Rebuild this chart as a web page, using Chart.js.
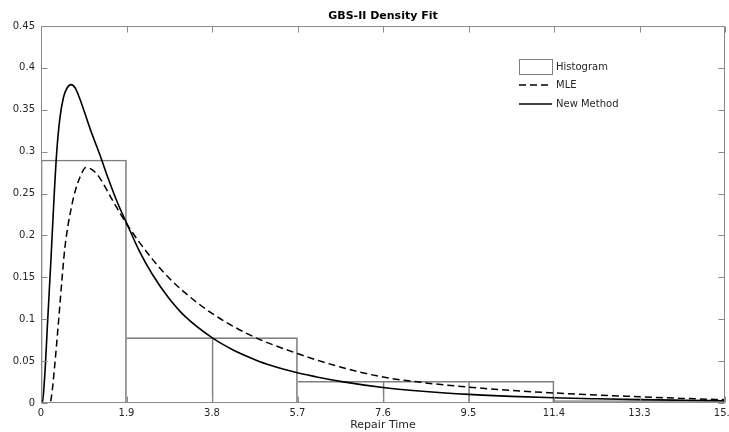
<!DOCTYPE html>
<html>
<head>
<meta charset="utf-8">
<script src="https://cdn.jsdelivr.net/npm/chart.js@4"></script>
<style>
  html, body { margin: 0; padding: 0; background: #fff; }
  #wrap { width: 729px; height: 432px; }
</style>
</head>
<body>
<div id="wrap"><canvas id="chart"></canvas></div>
<script>
// histogram bins (bin width 1.9)
const binCenters = [0.95, 2.85, 4.75, 6.65, 8.55, 10.45, 12.35, 14.25];
const binHeights = [0.29, 0.078, 0.078, 0.026, 0.026, 0.026, 0.003, 0.003];

// fitted densities
const mleX = [0, 0.2, 0.25, 0.3, 0.35, 0.4, 0.47, 0.53, 0.6, 0.67, 0.73, 0.87, 1.0, 1.15, 1.3, 1.6, 1.9, 2.47, 2.83, 3.19, 3.8, 4.65, 5.7, 6.65, 7.6, 8.55, 9.5, 10.45, 11.4, 12.35, 13.3, 14.25, 15.2];
const mleY = [0, 0, 0.015, 0.042, 0.072, 0.104, 0.15, 0.185, 0.212, 0.232, 0.247, 0.27, 0.281, 0.278, 0.269, 0.241, 0.214, 0.172, 0.15, 0.132, 0.107, 0.081, 0.059, 0.043, 0.031, 0.024, 0.019, 0.015, 0.012, 0.0095, 0.0075, 0.0055, 0.004];

const newX = [0, 0.03, 0.08, 0.15, 0.22, 0.29, 0.35, 0.42, 0.5, 0.58, 0.67, 0.76, 0.85, 0.93, 1.1, 1.31, 1.5, 1.7, 1.9, 2.18, 2.47, 2.83, 3.19, 3.8, 4.28, 4.65, 5.01, 5.7, 6.1, 6.65, 7.6, 8.55, 9.5, 10.45, 11.4, 12.35, 13.3, 14.25, 15.2];
const newY = [0, 0, 0.03, 0.1, 0.17, 0.245, 0.3, 0.34, 0.365, 0.376, 0.38, 0.376, 0.365, 0.353, 0.326, 0.296, 0.267, 0.239, 0.215, 0.182, 0.154, 0.126, 0.104, 0.078, 0.063, 0.054, 0.0465, 0.036, 0.0314, 0.0258, 0.0185, 0.0137, 0.0103, 0.0079, 0.0062, 0.005, 0.004, 0.0033, 0.0027];

const xTicks = [0, 1.9, 3.8, 5.7, 7.6, 9.5, 11.4, 13.3, 15.2];
const xTickLabels = ['0', '1.9', '3.8', '5.7', '7.6', '9.5', '11.4', '13.3', '15.2'];
const yTicks = [0, 0.05, 0.1, 0.15, 0.2, 0.25, 0.3, 0.35, 0.4, 0.45];
const yTickLabels = ['0', '0.05', '0.1', '0.15', '0.2', '0.25', '0.3', '0.35', '0.4', '0.45'];

const FONT = 'DejaVu Sans';
const TXT = '#262626';
const AXIS = '#8a8a8a';

// box around the axes, inward ticks and the legend (matlab look)
const axesBox = {
  id: 'axesBox',
  afterDatasetsDraw(chart) {
    const { ctx, chartArea: a, scales: { x, y } } = chart;
    const L = Math.round(a.left) + 0.5, R = Math.round(a.right) - 0.5;
    const T = Math.round(a.top) + 0.5, B = Math.round(a.bottom) - 0.5;
    ctx.save();
    ctx.strokeStyle = AXIS;
    ctx.lineWidth = 1;
    ctx.beginPath();
    ctx.rect(L, T, R - L, B - T);
    xTicks.forEach(v => {
      const px = Math.round(x.getPixelForValue(v)) + 0.5;
      ctx.moveTo(px, B); ctx.lineTo(px, B - 6);
      ctx.moveTo(px, T); ctx.lineTo(px, T + 6);
    });
    yTicks.forEach(v => {
      const py = Math.round(y.getPixelForValue(v)) + 0.5;
      ctx.moveTo(L, py); ctx.lineTo(L + 6, py);
      ctx.moveTo(R, py); ctx.lineTo(R - 6, py);
    });
    ctx.stroke();

    // legend
    const x0 = Math.round(a.right) - 206, y0 = Math.round(a.top) + 33;
    ctx.font = '10px ' + FONT;
    ctx.fillStyle = TXT;
    ctx.textBaseline = 'middle';
    ctx.textAlign = 'left';
    const ds = chart.data.datasets;

    ctx.strokeStyle = '#7f7f7f';
    ctx.strokeRect(x0 + 0.5, y0 + 0.5, 33, 15);
    ctx.fillText(ds[0].label, x0 + 37, y0 + 8);

    ctx.strokeStyle = '#000';
    ctx.lineWidth = 1.5;
    ctx.setLineDash([7, 4]);
    ctx.beginPath(); ctx.moveTo(x0, y0 + 26); ctx.lineTo(x0 + 33, y0 + 26); ctx.stroke();
    ctx.fillText(ds[1].label, x0 + 37, y0 + 26);

    ctx.setLineDash([]);
    ctx.beginPath(); ctx.moveTo(x0, y0 + 45); ctx.lineTo(x0 + 33, y0 + 45); ctx.stroke();
    ctx.fillText(ds[2].label, x0 + 37, y0 + 45);
    ctx.restore();
  }
};

// shared bin edges drawn once, by the taller bar
function binBorder(c) {
  const i = c.dataIndex, h = binHeights[i];
  const prev = binHeights[i - 1], next = binHeights[i + 1];
  return {
    top: 1,
    bottom: 0,
    left: (prev === undefined || h >= prev) ? 1 : 0,
    right: (next === undefined || h > next) ? 1 : 0
  };
}

new Chart(document.getElementById('chart'), {
  type: 'bar',
  data: {
    datasets: [
      {
        type: 'bar',
        label: 'Histogram',
        data: binCenters.map((x, i) => ({ x: x, y: binHeights[i] })),
        backgroundColor: 'rgba(0,0,0,0)',
        borderColor: '#7f7f7f',
        borderWidth: binBorder,
        borderSkipped: false,
        barPercentage: 1,
        categoryPercentage: 1,
        order: 2
      },
      {
        type: 'line',
        label: 'MLE',
        data: mleX.map((x, i) => ({ x: x, y: mleY[i] })),
        borderColor: '#000',
        borderWidth: 1.5,
        borderDash: [7, 4],
        pointRadius: 0,
        cubicInterpolationMode: 'monotone',
        fill: false,
        order: 1
      },
      {
        type: 'line',
        label: 'New Method',
        data: newX.map((x, i) => ({ x: x, y: newY[i] })),
        borderColor: '#000',
        borderWidth: 1.6,
        pointRadius: 0,
        cubicInterpolationMode: 'monotone',
        fill: false,
        order: 0
      }
    ]
  },
  options: {
    responsive: true,
    maintainAspectRatio: false,
    animation: false,
    layout: { padding: { right: 4 } },
    plugins: {
      legend: { display: false },
      tooltip: { enabled: false },
      title: {
        display: true,
        text: 'GBS-II Density Fit',
        fullSize: false,
        color: '#000',
        font: { family: FONT, size: 11, weight: 'bold' },
        padding: { top: 10, bottom: 2.8 }
      }
    },
    scales: {
      x: {
        type: 'linear',
        min: 0,
        max: 15.2,
        offset: false,
        grid: { display: false, drawTicks: false },
        border: { display: false },
        afterBuildTicks: s => { s.ticks = xTicks.map(v => ({ value: v })); },
        afterFit: s => { s.height = 29; s.paddingRight = 0; },
        ticks: {
          autoSkip: false,
          maxRotation: 0,
          padding: 4,
          color: TXT,
          font: { family: FONT, size: 10 },
          callback: (v, i) => xTickLabels[i]
        },
        title: {
          display: true,
          text: 'Repair Time',
          color: TXT,
          font: { family: FONT, size: 11 },
          padding: { top: 0, bottom: 0 }
        }
      },
      y: {
        type: 'linear',
        min: 0,
        max: 0.45,
        grid: { display: false, drawTicks: false },
        border: { display: false },
        afterBuildTicks: s => { s.ticks = yTicks.map(v => ({ value: v })); },
        afterFit: s => { s.width = 41; },
        ticks: {
          autoSkip: false,
          padding: 6,
          color: TXT,
          font: { family: FONT, size: 10 },
          callback: (v, i) => yTickLabels[i]
        }
      }
    }
  },
  plugins: [axesBox]
});
</script>
</body>
</html>
